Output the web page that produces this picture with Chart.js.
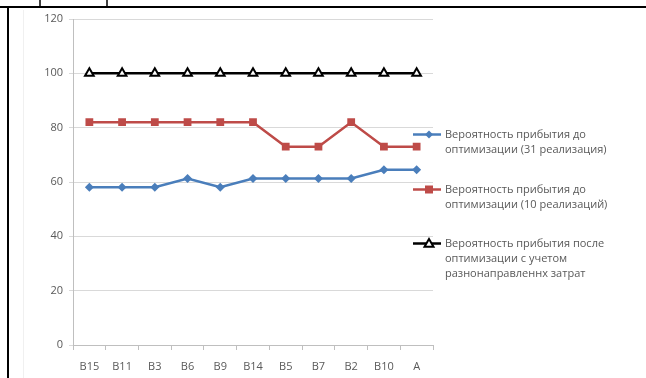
<!DOCTYPE html>
<html>
<head>
<meta charset="utf-8">
<script src="https://cdn.jsdelivr.net/npm/chart.js@4/dist/chart.umd.min.js"></script>
<style>
  html, body { margin: 0; padding: 0; background: #fff; }
  #wrap { width: 646px; height: 378px; position: relative; }
</style>
</head>
<body>
<div id="wrap"><canvas id="c" width="646" height="378"></canvas></div>
<script>
// Categories (routes) along the horizontal axis
const categories = ['B15', 'B11', 'B3', 'B6', 'B9', 'B14', 'B5', 'B7', 'B2', 'B10', 'A'];

// Arrival probability, %, before optimisation (31 runs)
const before31 = [58.1, 58.1, 58.1, 61.3, 58.1, 61.3, 61.3, 61.3, 61.3, 64.5, 64.5];
// Arrival probability, %, before optimisation (10 runs)
const before10 = [82, 82, 82, 82, 82, 82, 73, 73, 82, 73, 73];
// Arrival probability, %, after optimisation
const afterOpt = [100, 100, 100, 100, 100, 100, 100, 100, 100, 100, 100];

// Legend text, one array of lines per series
const seriesLabels = [
  ['Вероятность прибытия до', 'оптимизации (31 реализация)'],
  ['Вероятность прибытия до', 'оптимизации (10 реализаций)'],
  ['Вероятность прибытия после', 'оптимизации с учетом', 'разнонаправленнх затрат']
];

// Value axis
const yMin = 0, yMax = 120, yStep = 20;

const FONT = '"Open Sans", "Liberation Sans", sans-serif';
const TEXT = '#595959';

function drawMarker(ctx, style, x, y, r, fill, stroke, bw) {
  ctx.save();
  ctx.beginPath();
  if (style === 'rectRot') {
    ctx.moveTo(x, y - r); ctx.lineTo(x + r, y); ctx.lineTo(x, y + r); ctx.lineTo(x - r, y); ctx.closePath();
  } else if (style === 'rect') {
    ctx.rect(x - r, y - r, 2 * r, 2 * r);
  } else if (style === 'triangle') {
    ctx.moveTo(x, y - r); ctx.lineTo(x + r, y + r * 0.7); ctx.lineTo(x - r, y + r * 0.7); ctx.closePath();
  }
  ctx.fillStyle = fill; ctx.fill();
  if (bw) { ctx.lineWidth = bw; ctx.strokeStyle = stroke; ctx.stroke(); }
  ctx.restore();
}

// Legend to the right of the plot with wrapped labels
const sideLegend = {
  id: 'sideLegend',
  afterDraw(chart) {
    const ctx = chart.ctx;
    const tops = [134.5, 189.5, 243.5];
    const lineH = 15;
    chart.data.datasets.forEach((ds, i) => {
      const y = tops[i];
      ctx.save();
      ctx.strokeStyle = ds.borderColor;
      ctx.lineWidth = ds.borderWidth;
      ctx.beginPath(); ctx.moveTo(413, y); ctx.lineTo(441, y); ctx.stroke();
      ctx.restore();
      drawMarker(ctx, ds.pointStyle, 429, y, ds.legendR, ds.pointBackgroundColor, ds.pointBorderColor, ds.pointBorderWidth);
      ctx.save();
      ctx.fillStyle = TEXT;
      ctx.font = '11px ' + FONT;
      ctx.textBaseline = 'middle';
      seriesLabels[i].forEach((t, k) => ctx.fillText(t, 445, y + k * lineH));
      ctx.restore();
    });
  }
};

// Page frame lines around the figure
const pageFrame = {
  id: 'pageFrame',
  afterDraw(chart) {
    const ctx = chart.ctx;
    ctx.save();
    ctx.strokeStyle = '#f0f0f0';
    ctx.lineWidth = 1;
    ctx.beginPath(); ctx.moveTo(23.5, 10); ctx.lineTo(23.5, 378); ctx.stroke();
    ctx.strokeStyle = '#000';
    ctx.lineWidth = 2;
    ctx.beginPath(); ctx.moveTo(0, 7); ctx.lineTo(646, 7); ctx.stroke();
    ctx.beginPath(); ctx.moveTo(8, 6); ctx.lineTo(8, 378); ctx.stroke();
    ctx.lineWidth = 1.5;
    ctx.beginPath(); ctx.moveTo(40, 0); ctx.lineTo(40, 6); ctx.stroke();
    ctx.beginPath(); ctx.moveTo(107, 0); ctx.lineTo(107, 6); ctx.stroke();
    ctx.restore();
  }
};

const bg = {
  id: 'bg',
  beforeDraw(chart) {
    const ctx = chart.ctx;
    ctx.save(); ctx.fillStyle = '#fff'; ctx.fillRect(0, 0, chart.width, chart.height); ctx.restore();
  }
};

new Chart(document.getElementById('c'), {
  type: 'line',
  data: {
    labels: categories,
    datasets: [
      {
        label: seriesLabels[0].join(' '), data: before31,
        borderColor: '#4a7ebb', backgroundColor: '#4a7ebb', borderWidth: 2.5,
        pointStyle: 'rectRot', pointRadius: 4.5, pointBackgroundColor: '#4a7ebb', pointBorderColor: '#4a7ebb', pointBorderWidth: 0,
        legendR: 4, tension: 0
      },
      {
        label: seriesLabels[1].join(' '), data: before10,
        borderColor: '#be4b48', backgroundColor: '#be4b48', borderWidth: 2.5,
        pointStyle: 'rect', pointRadius: 5.5, pointBackgroundColor: '#be4b48', pointBorderColor: '#be4b48', pointBorderWidth: 0,
        legendR: 4, tension: 0
      },
      {
        label: seriesLabels[2].join(' '), data: afterOpt,
        borderColor: '#000', backgroundColor: '#fff', borderWidth: 2.5,
        pointStyle: 'triangle', pointRadius: 5, pointBackgroundColor: '#fff', pointBorderColor: '#000', pointBorderWidth: 2,
        legendR: 4.5, tension: 0
      }
    ]
  },
  options: {
    responsive: false,
    animation: false,
    devicePixelRatio: 1,
    layout: { padding: { left: 0, top: 19, right: 213, bottom: 0 } },
    plugins: { legend: { display: false }, tooltip: { enabled: false } },
    scales: {
      x: {
        offset: true,
        afterFit(s) { s.height = 33; },
        grid: { offset: true, drawOnChartArea: false, drawTicks: true, tickLength: 5, color: '#bfbfbf' },
        border: { display: true, color: '#bfbfbf', width: 1 },
        ticks: { color: TEXT, font: { family: FONT, size: 11 }, padding: 10, autoSkip: false, maxRotation: 0 }
      },
      y: {
        min: yMin, max: yMax,
        afterFit(s) { s.width = 73; },
        grid: { color: '#d9d9d9', tickLength: 4, drawTicks: true },
        border: { display: true, color: '#bfbfbf', width: 1 },
        ticks: { stepSize: yStep, color: TEXT, font: { family: FONT, size: 11 }, padding: 6 }
      }
    }
  },
  plugins: [bg, sideLegend, pageFrame]
});
</script>
</body>
</html>
